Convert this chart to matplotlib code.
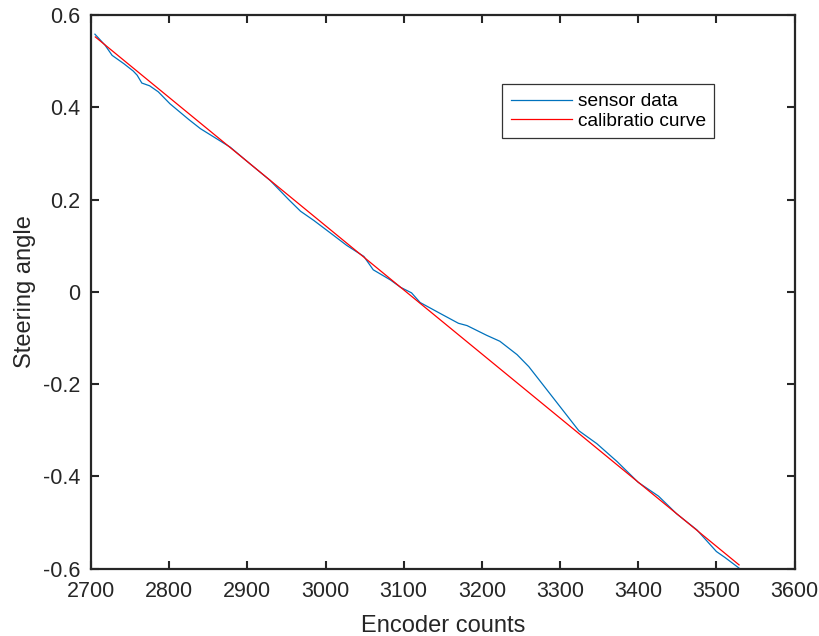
import matplotlib
matplotlib.use("Agg")
import matplotlib.pyplot as plt

# encoder counts vs measured steering angle
sensor_counts = [2705, 2718, 2727, 2742, 2754, 2759, 2765, 2775, 2786, 2801,
                 2825, 2840, 2878, 2904, 2929, 2953, 2968, 2985, 3010, 3027,
                 3049, 3061, 3083, 3096, 3110, 3121, 3147, 3170, 3181, 3206,
                 3223, 3245, 3260, 3272, 3324, 3347, 3373, 3400, 3426, 3449,
                 3475, 3500, 3511, 3529]
sensor_angle = [0.559, 0.535, 0.513, 0.495, 0.479, 0.470, 0.453, 0.447, 0.434, 0.408,
                0.374, 0.354, 0.314, 0.277, 0.242, 0.200, 0.175, 0.155, 0.123, 0.101,
                0.077, 0.048, 0.026, 0.010, -0.002, -0.023, -0.047, -0.068, -0.073, -0.094,
                -0.107, -0.136, -0.162, -0.188, -0.301, -0.329, -0.368, -0.413, -0.443, -0.481,
                -0.516, -0.563, -0.576, -0.599]

# linear fit end points
calib_counts = [2705.5, 3529]
calib_angle = [0.553, -0.592]

xticks = [2700, 2800, 2900, 3000, 3100, 3200, 3300, 3400, 3500, 3600]
yticks = [-0.6, -0.4, -0.2, 0, 0.2, 0.4, 0.6]
ytick_labels = ['-0.6', '-0.4', '-0.2', '0', '0.2', '0.4', '0.6']

plt.rcParams['font.family'] = ['Liberation Sans', 'DejaVu Sans']
plt.rcParams['axes.unicode_minus'] = False

fig = plt.figure(figsize=(8.2, 6.36), dpi=100)
ax = fig.add_axes([0.111, 0.106, 0.858, 0.870])

ax.plot(sensor_counts, sensor_angle, color='#0072BD', lw=0.9, label='sensor data')
ax.plot(calib_counts, calib_angle, color='#FF0000', lw=0.9, label='calibratio curve')

ax.set_xlim(2700, 3600)
ax.set_ylim(-0.6, 0.6)
ax.set_xticks(xticks)
ax.set_yticks(yticks)
ax.set_yticklabels(ytick_labels)

ax.tick_params(direction='in', length=6, width=1.5, top=True, right=True,
               labelsize=15.5, colors='#262626')
ax.tick_params(axis='x', pad=9)
ax.tick_params(axis='y', pad=7.5)
for s in ax.spines.values():
    s.set_linewidth(1.6)
    s.set_color('#262626')

ax.set_xlabel('Encoder counts', fontsize=17, color='#262626', labelpad=9)
ax.set_ylabel('Steering angle', fontsize=17, color='#262626', labelpad=5)

leg = ax.legend(loc='upper left', bbox_to_anchor=(0.584, 0.875), fontsize=13.8,
                fancybox=False, framealpha=1, edgecolor='#333333',
                handlelength=3.2, handletextpad=0.3, borderpad=0.45,
                labelspacing=0.1, borderaxespad=0)
leg.get_frame().set_linewidth(0.9)

fig.savefig('out.png', dpi=100)
